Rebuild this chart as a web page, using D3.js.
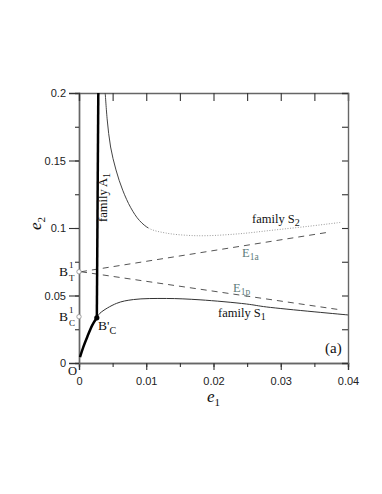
<!DOCTYPE html>
<html><head><meta charset="utf-8">
<script src="https://cdn.jsdelivr.net/npm/d3@7"></script>
<style>body{margin:0;background:#fff}svg{display:block}</style>
</head><body>
<script>
// ---- data ----
const xTicksMajor = [0, 0.01, 0.02, 0.03, 0.04];
const xTickLabels = ["0", "0.01", "0.02", "0.03", "0.04"];
const yTicksMajor = [0, 0.05, 0.1, 0.15, 0.2];
const yTickLabels = ["0", "0.05", "0.1", "0.15", "0.2"];
// thick branch O -> B'C
const branchOB = [[0.00015,0.0044],[0.00065,0.012],[0.00124,0.0195],[0.00198,0.0281],[0.00265,0.0335]];
// family A1 (thick vertical)
const familyA1 = [[0.00265,0.0335],[0.00287,0.2]];
// upper thin branch (solid part, then family S2 dotted)
const upperBranch = [[0.0039,0.2],[0.0042,0.18],[0.0047,0.16],[0.0055,0.143],[0.0065,0.128],[0.0077,0.115],[0.0090,0.1055],[0.0105,0.0995],[0.013,0.0962],[0.016,0.0946],[0.019,0.0943],[0.024,0.0958],[0.029,0.0985],[0.034,0.1012],[0.039,0.1042]];
const solidEnd = 0.0103; // e1 where the solid part turns into the dotted S2 part
// family S1 (thin solid)
const familyS1 = [[0.00265,0.0335],[0.0031,0.0368],[0.0056,0.0442],[0.0081,0.0470],[0.013,0.0478],[0.018,0.0468],[0.0249,0.0437],[0.0279,0.0415],[0.04,0.0356]];
// E1a, E1p (dashed)
const E1a = [[0.0003,0.0676],[0.037,0.0968]];
const E1p = [[0.0003,0.0676],[0.039,0.0393]];
// points
const BT1 = [0, 0.0676];
const BC1 = [0, 0.0343];
const BCp = [0.00265, 0.0335];

// ---- drawing ----
const W = 382, H = 494;
const L = 79, R = 348, T = 93, B = 363;
const x = d3.scaleLinear().domain([0, 0.04]).range([L, R]);
const y = d3.scaleLinear().domain([0, 0.2]).range([B, T]);

const svg = d3.select("body").append("svg").attr("width", W).attr("height", H);
svg.append("rect").attr("width", W).attr("height", H).attr("fill", "#fff");

const defs = svg.append("defs");
defs.append("clipPath").attr("id","clipSolid").append("rect")
  .attr("x", 0).attr("y", 0).attr("width", x(solidEnd)).attr("height", H);
defs.append("clipPath").attr("id","clipDot").append("rect")
  .attr("x", x(solidEnd)).attr("y", 0).attr("width", W - x(solidEnd)).attr("height", H);

const axisCol = "#666";
const sans = "'Liberation Sans', Arial, sans-serif";
const serif = "'Liberation Serif', 'Times New Roman', serif";

// axes
const minorX = d3.range(0, 0.0401, 0.005);
const minorY = d3.range(0, 0.2001, 0.025);

const gB = svg.append("g").attr("transform", `translate(0,${B})`)
  .call(d3.axisBottom(x).tickValues(xTicksMajor).tickSize(7).tickFormat((d,i)=>xTickLabels[i]).tickPadding(7));
const gBm = svg.append("g").attr("transform", `translate(0,${B})`)
  .call(d3.axisBottom(x).tickValues(minorX).tickSize(4).tickFormat(""));
const gL = svg.append("g").attr("transform", `translate(${L},0)`)
  .call(d3.axisLeft(y).tickValues(yTicksMajor).tickSize(10).tickFormat((d,i)=>yTickLabels[i]).tickPadding(3));
const gLm = svg.append("g").attr("transform", `translate(${L},0)`)
  .call(d3.axisLeft(y).tickValues(minorY).tickSize(4).tickFormat(""));
const gT = svg.append("g").attr("transform", `translate(0,${T})`)
  .call(d3.axisTop(x).tickValues(minorX).tickSize(-8).tickFormat(""));
const gR = svg.append("g").attr("transform", `translate(${R},0)`)
  .call(d3.axisRight(y).tickValues(minorY).tickSize(-6).tickFormat(""));
[gB,gBm,gL,gLm,gT,gR].forEach(g=>{
  g.selectAll("path.domain").attr("stroke", axisCol).attr("stroke-width", 1.4);
  g.selectAll(".tick line").attr("stroke", "#333").attr("stroke-width", 1.1);
  g.selectAll(".tick text").attr("font-family", sans).attr("font-size", 11).attr("fill", "#222");
});
gL.selectAll(".tick text").attr("dy", "0.35em");

// curves
const line = d3.line().x(d=>x(d[0])).y(d=>y(d[1])).curve(d3.curveCatmullRom.alpha(0.5));
const straight = d3.line().x(d=>x(d[0])).y(d=>y(d[1]));

svg.append("path").attr("d", line(upperBranch)).attr("clip-path","url(#clipSolid)")
  .attr("fill","none").attr("stroke","#444").attr("stroke-width",1);
svg.append("path").attr("d", line(upperBranch)).attr("clip-path","url(#clipDot)")
  .attr("fill","none").attr("stroke","#999").attr("stroke-width",1).attr("stroke-dasharray","1,1.6");
svg.append("path").attr("d", line(familyS1)).attr("fill","none").attr("stroke","#333").attr("stroke-width",1);
svg.append("path").attr("d", straight(E1a)).attr("fill","none").attr("stroke","#555").attr("stroke-width",1).attr("stroke-dasharray","6,5");
svg.append("path").attr("d", straight(E1p)).attr("fill","none").attr("stroke","#555").attr("stroke-width",1).attr("stroke-dasharray","6,5");
svg.append("path").attr("d", line(branchOB)).attr("fill","none").attr("stroke","#000").attr("stroke-width",2.5);
svg.append("path").attr("d", straight(familyA1)).attr("fill","none").attr("stroke","#000").attr("stroke-width",2.5);

// points
svg.append("circle").attr("cx", x(BCp[0])).attr("cy", y(BCp[1])).attr("r", 2.6).attr("fill", "#000");
[BT1, BC1].forEach(p=>{
  svg.append("circle").attr("cx", x(p[0])).attr("cy", y(p[1])).attr("r", 2.2)
    .attr("fill", "#fff").attr("stroke", "#999").attr("stroke-width", 0.9);
});

// labels helper
function lab(px, py, parts, opts={}) {
  const t = svg.append("text").attr("x", px).attr("y", py)
    .attr("font-family", serif).attr("font-size", opts.size || 13).attr("fill", opts.fill || "#111");
  if (opts.anchor) t.attr("text-anchor", opts.anchor);
  if (opts.rotate) t.attr("transform", `rotate(${opts.rotate},${px},${py})`);
  parts.forEach(p=>{
    const s = t.append("tspan").text(p.t);
    if (p.dy) s.attr("dy", p.dy);
    if (p.size) s.attr("font-size", p.size);
    if (p.italic) s.attr("font-style", "italic");
    if (p.dx) s.attr("dx", p.dx);
  });
  return t;
}

// axis titles
lab(207, 402, [{t:"e", italic:true},{t:"1", size:11, dy:4}], {size:17});
lab(41, 230, [{t:"e", italic:true},{t:"2", size:11, dy:4}], {size:17, rotate:-90});

// curve labels
lab(107, 222, [{t:"family A"},{t:"1", size:10, dy:3}], {size:12.5, rotate:-90});
lab(252, 223, [{t:"family S"},{t:"2", size:10, dy:3}], {size:12.5});
lab(218, 317, [{t:"family S"},{t:"1", size:10, dy:3}], {size:12.5});
lab(242, 257, [{t:"E"},{t:"1a", size:9.5, dy:3}], {size:12.5, fill:"#5e7d7b"});
lab(233, 292, [{t:"E"},{t:"1p", size:9.5, dy:3}], {size:12.5, fill:"#5e7d7b"});
lab(325, 353, [{t:"(a)"}], {size:15});
lab(98, 330, [{t:"B'"},{t:"C", size:10, dy:4}], {size:13.5});
// B^1_T and B^1_C
lab(59, 276, [{t:"B"}], {size:13.5});
lab(69, 268, [{t:"1"}], {size:9});
lab(69, 281, [{t:"T"}], {size:9});
lab(59, 321, [{t:"B"}], {size:13.5});
lab(69, 313, [{t:"1"}], {size:9});
lab(69, 326, [{t:"C"}], {size:9});
// origin
lab(68, 375, [{t:"O"}], {size:12.5});
</script>
</body></html>
